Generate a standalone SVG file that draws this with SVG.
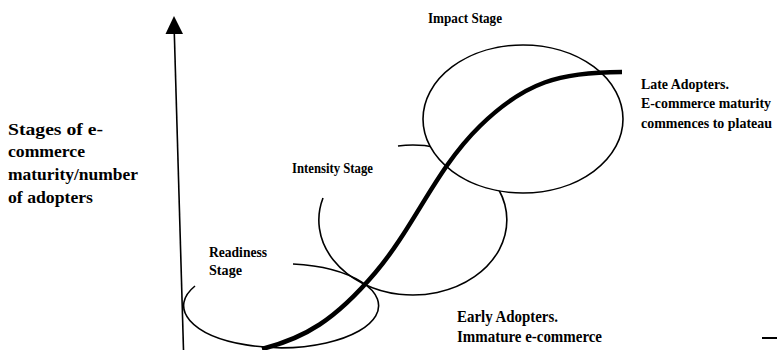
<svg xmlns="http://www.w3.org/2000/svg" width="777" height="350" viewBox="0 0 777 350">
  <style>
    .ring { fill: none; stroke: #000; stroke-width: 1.6; }
    .ring-solid { fill: #fff; stroke: #000; stroke-width: 1.6; }
    .growth { fill: none; stroke: #000; stroke-width: 4.5; stroke-linecap: butt; }
    .axis { stroke: #000; stroke-width: 1.6; fill: none; }
    text { font-family: "Liberation Serif", "Times New Roman", serif; font-weight: bold; fill: #000; }
    .stage { font-size: 14px; }
    .note { font-size: 16px; }
    .note-edge { font-size: 14px; }
    .ylabel { font-size: 17px; }
  </style>
  <rect width="777" height="350" fill="#fff"/>

  <!-- vertical axis with arrowhead -->
  <g id="axis">
    <line class="axis" x1="183.5" y1="350" x2="174.3" y2="33"/>
    <path d="M174,16 L165.5,34 L183,34 Z" fill="#000"/>
  </g>

  <!-- stage ellipses -->
  <g id="readiness-stage">
    <path class="ring" d="M293,264 A97.5,42 0 1 1 195,286"/>
    <text class="stage" x="209" y="257" textLength="58" lengthAdjust="spacingAndGlyphs">Readiness</text>
    <text class="stage" x="209" y="275" textLength="33" lengthAdjust="spacingAndGlyphs">Stage</text>
  </g>
  <g id="intensity-stage">
    <path class="ring" d="M398,146 A94,75 0 1 1 323,198"/>
    <text class="stage" x="292" y="173" textLength="81" lengthAdjust="spacingAndGlyphs">Intensity Stage</text>
  </g>
  <g id="impact-stage">
    <ellipse class="ring-solid" cx="523" cy="119" rx="100" ry="74"/>
    <text class="stage" x="428" y="23" textLength="74" lengthAdjust="spacingAndGlyphs">Impact Stage</text>
  </g>

  <!-- adoption S-curve -->
  <g id="connectors">
    <path class="growth" d="M262,349 C305,338 335,320 375,273 S435,170 480,126 S560,72 622,72"/>
    <line x1="762" y1="338" x2="777" y2="338" stroke="#000" stroke-width="2"/>
  </g>

  <!-- annotations -->
  <g id="late-adopters">
    <text class="note-edge" x="641" y="89" textLength="88" lengthAdjust="spacingAndGlyphs">Late Adopters.</text>
    <text class="note-edge" x="641" y="108" textLength="130" lengthAdjust="spacingAndGlyphs">E-commerce maturity</text>
    <text class="note-edge" x="641" y="128" textLength="131" lengthAdjust="spacingAndGlyphs">commences to plateau</text>
  </g>
  <g id="early-adopters">
    <text class="note" x="457" y="322" textLength="101" lengthAdjust="spacingAndGlyphs">Early Adopters.</text>
    <text class="note" x="457" y="342" textLength="145" lengthAdjust="spacingAndGlyphs">Immature e-commerce</text>
  </g>
  <g id="y-label">
    <text class="ylabel" x="8" y="135" textLength="95" lengthAdjust="spacingAndGlyphs">Stages of e-</text>
    <text class="ylabel" x="8" y="157" textLength="77" lengthAdjust="spacingAndGlyphs">commerce</text>
    <text class="ylabel" x="8" y="180" textLength="130" lengthAdjust="spacingAndGlyphs">maturity/number</text>
    <text class="ylabel" x="8" y="203" textLength="85" lengthAdjust="spacingAndGlyphs">of adopters</text>
  </g>
</svg>
